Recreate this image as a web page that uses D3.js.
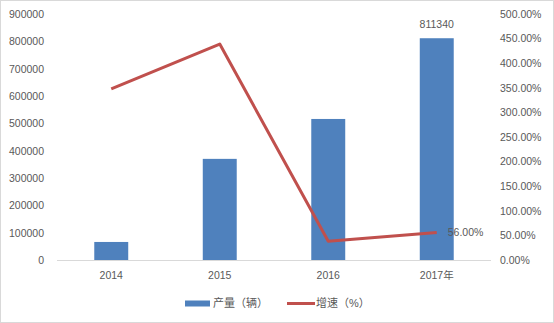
<!DOCTYPE html>
<html>
<head>
<meta charset="utf-8">
<script src="https://cdn.jsdelivr.net/npm/d3@7"></script>
<style>
  body { margin: 0; background: #fff; }
  svg text { font-family: "Liberation Sans", "Noto Sans CJK SC", sans-serif; font-size: 10.5px; fill: #595959; }
  svg .legend text { font-size: 11px; }
</style>
</head>
<body>
<div id="chart"></div>
<script>
const years = ['2014', '2015', '2016', '2017年'];
const output = [66000, 370000, 516000, 811340];   // 产量（辆）
const growth = [3.48, 4.39, 0.38, 0.56];           // 增速
const leftTicks = [0, 100000, 200000, 300000, 400000, 500000, 600000, 700000, 800000, 900000];
const rightTicks = [0, 0.5, 1, 1.5, 2, 2.5, 3, 3.5, 4, 4.5, 5];

const width = 554, height = 323;
const plot = { left: 57, right: 491, top: 14, bottom: 260 };

const svg = d3.select('#chart').append('svg')
  .attr('width', width)
  .attr('height', height);

// outer frame
svg.append('rect')
  .attr('x', 0.5).attr('y', 0.5)
  .attr('width', width - 1).attr('height', height - 1)
  .attr('fill', '#fff').attr('stroke', '#d9d9d9');

const x = d3.scaleBand()
  .domain(years)
  .range([plot.left, plot.right])
  .paddingInner(0.687)
  .paddingOuter(0.3435);

const yLeft = d3.scaleLinear().domain([0, 900000]).range([plot.bottom, plot.top]);
const yRight = d3.scaleLinear().domain([0, 5]).range([plot.bottom, plot.top]);

// left axis labels
svg.append('g')
  .attr('transform', `translate(${plot.left}, 0)`)
  .call(d3.axisLeft(yLeft).tickValues(leftTicks).tickSize(0).tickPadding(13).tickFormat(d3.format('d')))
  .call(g => g.select('.domain').remove())
  .selectAll('text').attr('fill', '#595959');

// right axis labels
svg.append('g')
  .attr('transform', `translate(${plot.right}, 0)`)
  .call(d3.axisRight(yRight).tickValues(rightTicks).tickSize(0).tickPadding(9).tickFormat(d3.format('.2%')))
  .call(g => g.select('.domain').remove())
  .selectAll('text').attr('fill', '#595959');

// bars
svg.append('g').selectAll('rect')
  .data(output)
  .join('rect')
  .attr('x', (d, i) => x(years[i]))
  .attr('y', d => yLeft(d))
  .attr('width', x.bandwidth())
  .attr('height', d => plot.bottom - yLeft(d))
  .attr('fill', '#4f81bd');

// baseline
svg.append('line')
  .attr('x1', plot.left).attr('x2', plot.right)
  .attr('y1', plot.bottom + 0.5).attr('y2', plot.bottom + 0.5)
  .attr('stroke', '#d9d9d9');

// x labels
svg.append('g')
  .attr('transform', `translate(0, ${plot.bottom})`)
  .call(d3.axisBottom(x).tickSize(0).tickPadding(12))
  .call(g => g.select('.domain').remove())
  .selectAll('text').attr('fill', '#595959');

// growth line
const line = d3.line()
  .x((d, i) => x(years[i]) + x.bandwidth() / 2)
  .y(d => yRight(d));

svg.append('path')
  .datum(growth)
  .attr('d', line)
  .attr('fill', 'none')
  .attr('stroke', '#c0504d')
  .attr('stroke-width', 3)
  .attr('stroke-linejoin', 'round');

// data labels
const last = years.length - 1;
svg.append('text')
  .attr('x', x(years[last]) + x.bandwidth() / 2)
  .attr('y', yLeft(output[last]) - 10)
  .attr('text-anchor', 'middle')
  .text(output[last]);

svg.append('text')
  .attr('x', x(years[last]) + x.bandwidth() / 2 + 11)
  .attr('y', yRight(growth[last]) + 4)
  .text(d3.format('.2%')(growth[last]));

// legend
const legend = svg.append('g').attr('class', 'legend').attr('transform', 'translate(0, 303)');
legend.append('rect')
  .attr('x', 185).attr('y', -2.5).attr('width', 25).attr('height', 6)
  .attr('fill', '#4f81bd');
legend.append('text').attr('x', 213).attr('y', 4).text('产量（辆）');
legend.append('line')
  .attr('x1', 287).attr('x2', 315).attr('y1', 0.5).attr('y2', 0.5)
  .attr('stroke', '#c0504d').attr('stroke-width', 3);
legend.append('text').attr('x', 316).attr('y', 4).text('增速（%）');
</script>
</body>
</html>
